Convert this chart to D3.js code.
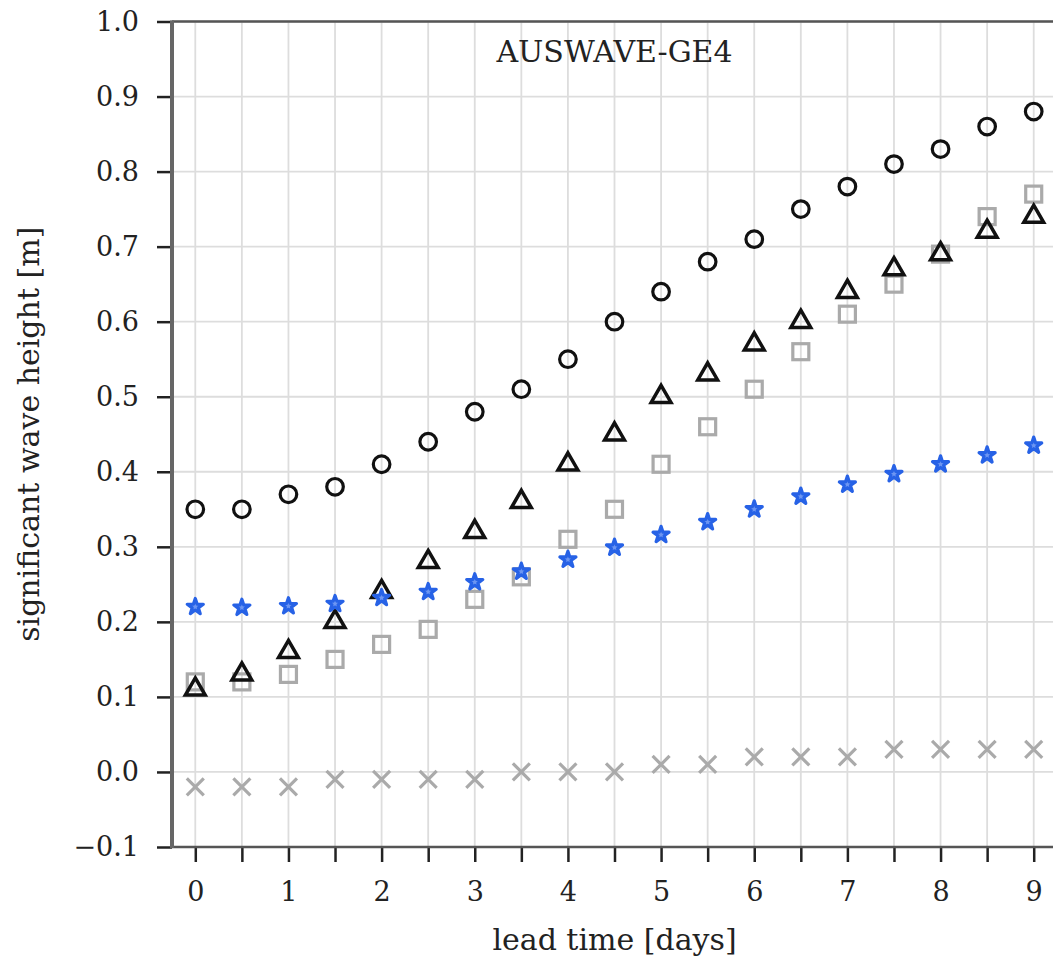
<!DOCTYPE html>
<html>
<head>
<meta charset="utf-8">
<script src="https://cdn.jsdelivr.net/npm/d3@7"></script>
<style>
  body { margin: 0; background: #fff; }
  svg { display: block; }
  text { font-family: "DejaVu Serif", serif; fill: #222; }
</style>
</head>
<body>
<div id="chart"></div>
<script>
// Lead times (days) shared by every series
var leadTimes = [0, 0.5, 1, 1.5, 2, 2.5, 3, 3.5, 4, 4.5, 5, 5.5, 6, 6.5, 7, 7.5, 8, 8.5, 9];

// Significant wave height [m] per series
var circleVals = [0.35, 0.35, 0.37, 0.38, 0.41, 0.44, 0.48, 0.51, 0.55, 0.60, 0.64, 0.68, 0.71, 0.75, 0.78, 0.81, 0.83, 0.86, 0.88];
var squareVals = [0.12, 0.12, 0.13, 0.15, 0.17, 0.19, 0.23, 0.26, 0.31, 0.35, 0.41, 0.46, 0.51, 0.56, 0.61, 0.65, 0.69, 0.74, 0.77];
var triangleVals = [0.11, 0.13, 0.16, 0.20, 0.24, 0.28, 0.32, 0.36, 0.41, 0.45, 0.50, 0.53, 0.57, 0.60, 0.64, 0.67, 0.69, 0.72, 0.74];
var starVals = [0.22, 0.219, 0.221, 0.224, 0.232, 0.24, 0.253, 0.267, 0.283, 0.299, 0.316, 0.333, 0.35, 0.367, 0.383, 0.397, 0.41, 0.422, 0.435];
var crossVals = [-0.02, -0.02, -0.02, -0.01, -0.01, -0.01, -0.01, 0.0, 0.0, 0.0, 0.01, 0.01, 0.02, 0.02, 0.02, 0.03, 0.03, 0.03, 0.03];

var yTicks = [-0.1, 0.0, 0.1, 0.2, 0.3, 0.4, 0.5, 0.6, 0.7, 0.8, 0.9, 1.0];
var xTicks = [0, 0.5, 1, 1.5, 2, 2.5, 3, 3.5, 4, 4.5, 5, 5.5, 6, 6.5, 7, 7.5, 8, 8.5, 9];
var panelTitle = "AUSWAVE-GE4";

var svgWidth = 1053;
var svgHeight = 957;

var margin = { top: 21.5, right: -4, bottom: 110, left: 172 };
var chartWidth = svgWidth - margin.left - margin.right;
var chartHeight = svgHeight - margin.top - margin.bottom;

var svg = d3.select("#chart")
    .append("svg")
    .attr("width", svgWidth)
    .attr("height", svgHeight);

var chartGroup = svg.append("g")
    .attr("transform", `translate(${margin.left}, ${margin.top})`);

var x = d3.scaleLinear().domain([-0.25, 9.25]).range([0, chartWidth]);
var y = d3.scaleLinear().domain([-0.1, 1.0]).range([chartHeight, 0]);

// grid
chartGroup.append("g")
    .selectAll("line")
    .data(xTicks)
    .enter()
    .append("line")
    .attr("x1", d => x(d)).attr("x2", d => x(d))
    .attr("y1", 0).attr("y2", chartHeight)
    .attr("stroke", "#ddd")
    .attr("stroke-width", 1.8);

chartGroup.append("g")
    .selectAll("line")
    .data(yTicks)
    .enter()
    .append("line")
    .attr("x1", 0).attr("x2", chartWidth)
    .attr("y1", d => y(d)).attr("y2", d => y(d))
    .attr("stroke", "#ddd")
    .attr("stroke-width", 1.8);

// axes
var bottomAxis = d3.axisBottom(x)
    .tickValues(xTicks)
    .tickSize(15)
    .tickPadding(20)
    .tickFormat(d => Number.isInteger(d) ? d3.format("d")(d) : "");

var leftAxis = d3.axisLeft(y)
    .tickValues(yTicks)
    .tickSize(15)
    .tickPadding(18)
    .tickFormat(d => d3.format(".1f")(d).replace("-", "\u2212"));

var xAxisG = chartGroup.append("g")
    .attr("transform", `translate(0, ${chartHeight})`)
    .call(bottomAxis);

var yAxisG = chartGroup.append("g")
    .call(leftAxis);

[xAxisG, yAxisG].forEach(function(g) {
    g.select(".domain").remove();
    g.selectAll(".tick line").attr("stroke", "#222").attr("stroke-width", 2.5);
    g.selectAll(".tick text")
      .style("font-family", "'DejaVu Serif', serif")
      .style("font-size", "27px")
      .attr("fill", "#222");
});

// spines
chartGroup.append("line")
    .attr("x1", 0).attr("x2", chartWidth)
    .attr("y1", 0).attr("y2", 0)
    .attr("stroke", "#555").attr("stroke-width", 2.5);
chartGroup.append("line")
    .attr("x1", 0).attr("x2", chartWidth)
    .attr("y1", chartHeight).attr("y2", chartHeight)
    .attr("stroke", "#555").attr("stroke-width", 2.5);
chartGroup.append("line")
    .attr("x1", 0).attr("x2", 0)
    .attr("y1", -1).attr("y2", chartHeight + 1)
    .attr("stroke", "#666").attr("stroke-width", 4);

// marker series
function pairs(vals) {
    return leadTimes.map((t, i) => ({ t: t, v: vals[i] }));
}

var markers = chartGroup.append("g");

markers.selectAll(".sq")
    .data(pairs(squareVals))
    .enter()
    .append("rect")
    .attr("class", "sq")
    .attr("x", d => x(d.t) - 8)
    .attr("y", d => y(d.v) - 8)
    .attr("width", 16).attr("height", 16)
    .attr("fill", "none")
    .attr("stroke", "#aaa")
    .attr("stroke-width", 3.2);

markers.selectAll(".tri")
    .data(pairs(triangleVals))
    .enter()
    .append("path")
    .attr("class", "tri")
    .attr("d", d3.symbol().type(d3.symbolTriangle).size(170))
    .attr("transform", d => `translate(${x(d.t)}, ${y(d.v)})`)
    .attr("fill", "none")
    .attr("stroke", "#111")
    .attr("stroke-width", 3.5);

markers.selectAll(".star")
    .data(pairs(starVals))
    .enter()
    .append("path")
    .attr("class", "star")
    .attr("d", d3.symbol().type(d3.symbolStar).size(80))
    .attr("transform", d => `translate(${x(d.t)}, ${y(d.v)})`)
    .attr("fill", "#6d96f2")
    .attr("stroke", "#2762e6")
    .attr("stroke-width", 3.2)
    .attr("stroke-linejoin", "round");

markers.selectAll(".circ")
    .data(pairs(circleVals))
    .enter()
    .append("circle")
    .attr("class", "circ")
    .attr("cx", d => x(d.t))
    .attr("cy", d => y(d.v))
    .attr("r", 8.3)
    .attr("fill", "none")
    .attr("stroke", "#111")
    .attr("stroke-width", 3.2);

markers.selectAll(".cross")
    .data(pairs(crossVals))
    .enter()
    .append("path")
    .attr("class", "cross")
    .attr("d", d3.symbol().type(d3.symbolTimes).size(190))
    .attr("transform", d => `translate(${x(d.t)}, ${y(d.v)})`)
    .attr("fill", "none")
    .attr("stroke", "#aaa")
    .attr("stroke-width", 3.2);

// panel title inside the axes
chartGroup.append("text")
    .attr("x", chartWidth / 2)
    .attr("y", 40.5)
    .attr("text-anchor", "middle")
    .style("font-size", "30px")
    .text(panelTitle);

// axis labels
svg.append("text")
    .attr("x", margin.left + x(4.5))
    .attr("y", 950)
    .attr("text-anchor", "middle")
    .style("font-size", "30px")
    .text("lead time [days]");

svg.append("text")
    .attr("transform", `translate(39, ${margin.top + chartHeight / 2}) rotate(-90)`)
    .attr("text-anchor", "middle")
    .style("font-size", "30px")
    .text("significant wave height [m]");
</script>
</body>
</html>
